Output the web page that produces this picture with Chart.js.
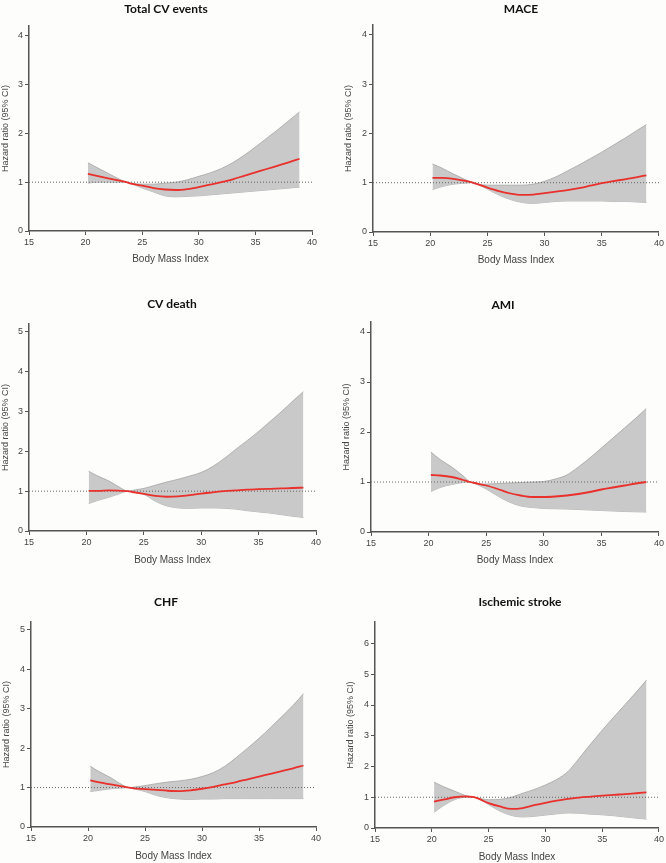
<!DOCTYPE html>
<html>
<head>
<meta charset="utf-8">
<script src="https://cdn.jsdelivr.net/npm/chart.js@4.4.1/dist/chart.umd.min.js"></script>
<style>
    body { margin: 0; background: #fdfdfb; }
    #wrap { position: relative; width: 666px; height: 863px; }
    #wrap canvas { position: absolute; }
</style>
</head>
<body>
<div id="wrap">
    <canvas id="c1" width="333" height="270" style="left:0px;top:0px"></canvas>
    <canvas id="c2" width="333" height="270" style="left:333px;top:0px"></canvas>
    <canvas id="c3" width="333" height="290" style="left:0px;top:280px"></canvas>
    <canvas id="c4" width="333" height="290" style="left:333px;top:280px"></canvas>
    <canvas id="c5" width="333" height="288" style="left:0px;top:575px"></canvas>
    <canvas id="c6" width="333" height="288" style="left:333px;top:575px"></canvas>
</div>
<script>
// BMI grid shared by all panels
const bmi = [20.2, 21, 22, 23, 23.6, 24, 25, 26, 27, 28, 29, 30, 31, 32, 33, 34, 35, 36, 37, 38, 38.9];
const xTicks = [15, 20, 25, 30, 35, 40];

const totalHr    = [1.17, 1.13, 1.08, 1.03, 1.00, 0.97, 0.93, 0.88, 0.85, 0.84, 0.86, 0.90, 0.95, 1.00, 1.06, 1.13, 1.20, 1.27, 1.34, 1.41, 1.48];
const totalUpper = [1.40, 1.30, 1.18, 1.06, 1.00, 0.98, 0.96, 0.96, 0.98, 1.00, 1.05, 1.12, 1.19, 1.28, 1.40, 1.55, 1.72, 1.90, 2.08, 2.27, 2.44];
const totalLower = [0.98, 1.00, 1.00, 1.00, 1.00, 0.97, 0.88, 0.80, 0.72, 0.70, 0.71, 0.72, 0.74, 0.76, 0.78, 0.80, 0.82, 0.84, 0.86, 0.88, 0.90];

const maceHr    = [1.10, 1.10, 1.08, 1.04, 1.01, 0.98, 0.90, 0.83, 0.78, 0.755, 0.76, 0.79, 0.82, 0.85, 0.89, 0.94, 0.99, 1.03, 1.07, 1.11, 1.15];
const maceUpper = [1.38, 1.30, 1.18, 1.07, 1.01, 0.98, 0.95, 0.95, 0.95, 0.95, 0.97, 1.03, 1.12, 1.24, 1.36, 1.49, 1.62, 1.76, 1.90, 2.05, 2.18];
const maceLower = [0.86, 0.92, 0.97, 0.99, 1.00, 0.98, 0.87, 0.75, 0.66, 0.60, 0.58, 0.60, 0.62, 0.63, 0.63, 0.63, 0.63, 0.62, 0.62, 0.61, 0.60];

const cvdHr    = [1.01, 1.01, 1.02, 1.01, 1.00, 0.98, 0.93, 0.88, 0.86, 0.87, 0.90, 0.94, 0.97, 1.00, 1.02, 1.04, 1.05, 1.06, 1.07, 1.08, 1.09];
const cvdUpper = [1.50, 1.38, 1.25, 1.08, 1.00, 1.02, 1.07, 1.15, 1.23, 1.30, 1.38, 1.47, 1.62, 1.82, 2.05, 2.27, 2.50, 2.75, 3.00, 3.27, 3.50];
const cvdLower = [0.69, 0.77, 0.85, 0.95, 1.00, 0.98, 0.92, 0.75, 0.63, 0.58, 0.57, 0.58, 0.58, 0.57, 0.55, 0.51, 0.48, 0.45, 0.41, 0.37, 0.34];

const amiHr    = [1.14, 1.13, 1.10, 1.04, 1.00, 0.98, 0.93, 0.86, 0.78, 0.73, 0.70, 0.70, 0.71, 0.73, 0.76, 0.80, 0.85, 0.89, 0.93, 0.97, 1.00];
const amiUpper = [1.60, 1.45, 1.30, 1.12, 1.00, 0.97, 0.96, 0.97, 0.98, 0.99, 1.00, 1.01, 1.06, 1.14, 1.30, 1.48, 1.68, 1.88, 2.08, 2.28, 2.47];
const amiLower = [0.81, 0.89, 0.95, 0.99, 1.00, 0.97, 0.86, 0.72, 0.60, 0.52, 0.49, 0.47, 0.465, 0.46, 0.45, 0.44, 0.43, 0.42, 0.41, 0.405, 0.40];

const chfHr    = [1.18, 1.13, 1.08, 1.03, 1.00, 0.98, 0.96, 0.94, 0.92, 0.91, 0.93, 0.97, 1.02, 1.08, 1.14, 1.21, 1.28, 1.35, 1.42, 1.49, 1.56];
const chfUpper = [1.54, 1.40, 1.25, 1.07, 1.00, 1.01, 1.05, 1.10, 1.14, 1.17, 1.21, 1.28, 1.38, 1.54, 1.76, 2.00, 2.25, 2.52, 2.80, 3.09, 3.38];
const chfLower = [0.90, 0.93, 0.97, 0.99, 1.00, 0.97, 0.90, 0.80, 0.74, 0.71, 0.70, 0.71, 0.71, 0.72, 0.72, 0.72, 0.72, 0.72, 0.72, 0.72, 0.72];

const strokeHr    = [0.86, 0.92, 1.00, 1.03, 1.01, 0.97, 0.81, 0.70, 0.62, 0.65, 0.74, 0.82, 0.89, 0.95, 0.99, 1.02, 1.05, 1.08, 1.10, 1.13, 1.16];
const strokeUpper = [1.49, 1.35, 1.20, 1.05, 1.01, 0.98, 0.92, 0.93, 1.00, 1.13, 1.25, 1.40, 1.58, 1.84, 2.28, 2.74, 3.18, 3.60, 4.01, 4.42, 4.81];
const strokeLower = [0.51, 0.72, 0.92, 1.00, 1.00, 0.97, 0.76, 0.55, 0.41, 0.36, 0.38, 0.42, 0.46, 0.49, 0.48, 0.45, 0.43, 0.40, 0.36, 0.32, 0.29];

const refLine = [1, 1];
const refX = [15, 40];

const axisColor = '#555';
const textColor = '#444';

// draws the bold panel heading at a fixed spot
const panelTitle = {
    id: 'panelTitle',
    afterDraw(chart, args, opts) {
        let ctx = chart.ctx;
        ctx.save();
        ctx.font = 'bold 12px Lato';
        ctx.fillStyle = '#111';
        ctx.textAlign = 'center';
        ctx.textBaseline = 'middle';
        ctx.fillText(opts.text, opts.x, opts.y);
        ctx.restore();
    }
};

function toPoints(xs, ys) {
    return xs.map((x, i) => ({x: x, y: ys[i]}));
}

function createPanel(chartId, title, hr, upper, lower, box) {
    let canvas = document.getElementById(chartId);
    let ctx = canvas.getContext('2d');
    new Chart(ctx, {
        type: 'line',
        data: {
            datasets: [{
                label: 'HR',
                data: toPoints(bmi, hr),
                borderColor: '#e8302c',
                borderWidth: 1.8,
                pointRadius: 0,
                fill: false,
                cubicInterpolationMode: 'monotone'
            }, {
                label: 'ref',
                data: toPoints(refX, refLine),
                borderColor: '#666',
                borderWidth: 1,
                borderDash: [1, 2],
                pointRadius: 0,
                fill: false
            }, {
                label: 'upper',
                data: toPoints(bmi, upper),
                borderColor: '#a3a3a3',
                borderWidth: 0.8,
                backgroundColor: '#c9c9c9',
                pointRadius: 0,
                fill: '+1',
                cubicInterpolationMode: 'monotone'
            }, {
                label: 'lower',
                data: toPoints(bmi, lower),
                borderColor: '#a3a3a3',
                borderWidth: 0.8,
                pointRadius: 0,
                fill: false,
                cubicInterpolationMode: 'monotone'
            }]
        },
        options: {
            responsive: false,
            animation: false,
            layout: {
                padding: {left: 0, top: box.top, right: canvas.width - box.right, bottom: box.xTitlePad}
            },
            plugins: {
                legend: {display: false},
                tooltip: {enabled: false},
                panelTitle: {text: title, x: box.titleX, y: box.titleY}
            },
            scales: {
                x: {
                    type: 'linear',
                    min: 15,
                    max: 40,
                    afterBuildTicks: function(scale) {
                        scale.ticks = xTicks.map(v => ({value: v}));
                    },
                    afterFit: function(scale) {
                        scale.height = canvas.height - box.bottom - box.xTitlePad;
                    },
                    grid: {drawOnChartArea: false, drawTicks: true, tickLength: 4, color: axisColor, lineWidth: 1},
                    border: {display: true, color: axisColor, width: 1.5},
                    ticks: {color: textColor, font: {family: 'Liberation Sans', size: 9}, padding: 2, maxRotation: 0},
                    title: {display: true, text: 'Body Mass Index', color: textColor, font: {family: 'Liberation Sans', size: 10}, padding: 0}
                },
                y: {
                    min: 0,
                    max: box.yMax,
                    afterFit: function(scale) {
                        scale.width = box.left;
                    },
                    grid: {drawOnChartArea: false, drawTicks: true, tickLength: 4, color: axisColor, lineWidth: 1},
                    border: {display: true, color: axisColor, width: 1.5},
                    ticks: {stepSize: 1, includeBounds: false, color: textColor, font: {family: 'Liberation Sans', size: 9}, padding: 2},
                    title: {display: true, text: 'Hazard ratio (95% CI)', color: textColor, font: {family: 'Liberation Sans', size: 9}, padding: {top: box.yTitlePad, bottom: 0}}
                }
            }
        },
        plugins: [panelTitle]
    });
}

createPanel('c1', 'Total CV events', totalHr, totalUpper, totalLower,
    {left: 29, top: 26, right: 312, bottom: 231, yMax: 4.2, titleX: 166, titleY: 9, yTitlePad: 0, xTitlePad: 5});
createPanel('c2', 'MACE', maceHr, maceUpper, maceLower,
    {left: 40, top: 25, right: 327, bottom: 232, yMax: 4.2, titleX: 188, titleY: 9, yTitlePad: 10, xTitlePad: 4});
createPanel('c3', 'CV death', cvdHr, cvdUpper, cvdLower,
    {left: 29, top: 44, right: 316, bottom: 251, yMax: 5.2, titleX: 172, titleY: 24, yTitlePad: 0, xTitlePad: 4});
createPanel('c4', 'AMI', amiHr, amiUpper, amiLower,
    {left: 38, top: 42, right: 328, bottom: 252, yMax: 4.2, titleX: 170, titleY: 25, yTitlePad: 8, xTitlePad: 4});
createPanel('c5', 'CHF', chfHr, chfUpper, chfLower,
    {left: 31, top: 47, right: 316, bottom: 252, yMax: 5.2, titleX: 166, titleY: 27, yTitlePad: 1, xTitlePad: 1});
createPanel('c6', 'Ischemic stroke', strokeHr, strokeUpper, strokeLower,
    {left: 42, top: 47, right: 327, bottom: 253, yMax: 6.7, titleX: 187, titleY: 27, yTitlePad: 12, xTitlePad: 0});
</script>
</body>
</html>
